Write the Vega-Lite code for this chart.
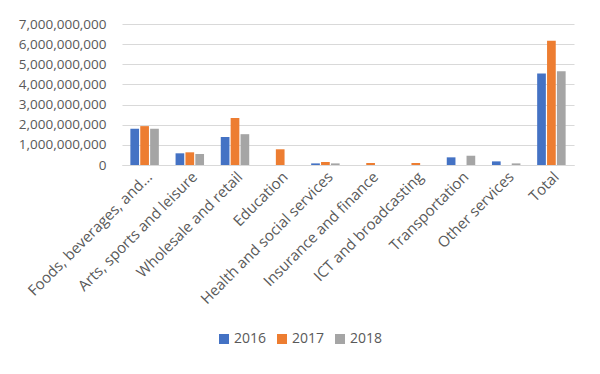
{
  "$schema": "https://vega.github.io/schema/vega-lite/v6.json",
  "width": 452,
  "height": 141,
  "autosize": {"type": "none"},
  "padding": {"left": 122, "top": 24, "right": 26, "bottom": 209},
  "background": "white",
  "data": {
    "values": [
      {"category": "Foods, beverages, and...", "year": "2016", "value": 1800000000},
      {"category": "Foods, beverages, and...", "year": "2017", "value": 1930000000},
      {"category": "Foods, beverages, and...", "year": "2018", "value": 1800000000},
      {"category": "Arts, sports and leisure", "year": "2016", "value": 580000000},
      {"category": "Arts, sports and leisure", "year": "2017", "value": 630000000},
      {"category": "Arts, sports and leisure", "year": "2018", "value": 550000000},
      {"category": "Wholesale and retail", "year": "2016", "value": 1390000000},
      {"category": "Wholesale and retail", "year": "2017", "value": 2330000000},
      {"category": "Wholesale and retail", "year": "2018", "value": 1530000000},
      {"category": "Education", "year": "2016", "value": 0},
      {"category": "Education", "year": "2017", "value": 780000000},
      {"category": "Education", "year": "2018", "value": 0},
      {"category": "Health and social services", "year": "2016", "value": 80000000},
      {"category": "Health and social services", "year": "2017", "value": 150000000},
      {"category": "Health and social services", "year": "2018", "value": 80000000},
      {"category": "Insurance and finance", "year": "2016", "value": 0},
      {"category": "Insurance and finance", "year": "2017", "value": 100000000},
      {"category": "Insurance and finance", "year": "2018", "value": 0},
      {"category": "ICT and broadcasting", "year": "2016", "value": 0},
      {"category": "ICT and broadcasting", "year": "2017", "value": 100000000},
      {"category": "ICT and broadcasting", "year": "2018", "value": 0},
      {"category": "Transportation", "year": "2016", "value": 380000000},
      {"category": "Transportation", "year": "2017", "value": 0},
      {"category": "Transportation", "year": "2018", "value": 460000000},
      {"category": "Other services", "year": "2016", "value": 180000000},
      {"category": "Other services", "year": "2017", "value": 0},
      {"category": "Other services", "year": "2018", "value": 80000000},
      {"category": "Total", "year": "2016", "value": 4540000000},
      {"category": "Total", "year": "2017", "value": 6170000000},
      {"category": "Total", "year": "2018", "value": 4650000000}
    ]
  },
  "mark": {"type": "bar"},
  "encoding": {
    "x": {
      "field": "category",
      "type": "nominal",
      "sort": null,
      "title": null,
      "scale": {"paddingInner": 0.37, "paddingOuter": 0.185},
      "axis": {
        "labelAngle": -45,
        "labelAlign": "right",
        "labelBaseline": "top",
        "labelFontSize": 15,
        "labelFont": "Open Sans",
        "labelColor": "#595959",
        "labelPadding": 4,
        "labelLimit": 300,
        "ticks": false,
        "domainColor": "#d9d9d9",
        "grid": false
      }
    },
    "xOffset": {
      "field": "year",
      "type": "nominal",
      "scale": {"paddingInner": 0.12}
    },
    "y": {
      "field": "value",
      "type": "quantitative",
      "title": null,
      "scale": {"domain": [0, 7000000000]},
      "axis": {
        "values": [0, 1000000000, 2000000000, 3000000000, 4000000000, 5000000000, 6000000000, 7000000000],
        "format": ",d",
        "labelFontSize": 13.5,
        "labelFont": "Open Sans",
        "labelColor": "#595959",
        "labelPadding": 16,
        "ticks": false,
        "domain": false,
        "gridColor": "#d9d9d9",
        "gridWidth": 1
      }
    },
    "color": {
      "field": "year",
      "type": "nominal",
      "title": null,
      "scale": {"domain": ["2016", "2017", "2018"], "range": ["#4472C4", "#ED7D31", "#A5A5A5"]},
      "legend": {
        "orient": "none",
        "direction": "horizontal",
        "legendX": 95,
        "legendY": 308,
        "symbolType": "square",
        "symbolSize": 100,
        "symbolStrokeWidth": 0,
        "labelFontSize": 14,
        "labelFont": "Open Sans",
        "labelColor": "#595959",
        "columnPadding": 8,
        "labelOffset": 3
      }
    }
  },
  "config": {
    "view": {"stroke": null}
  }
}
